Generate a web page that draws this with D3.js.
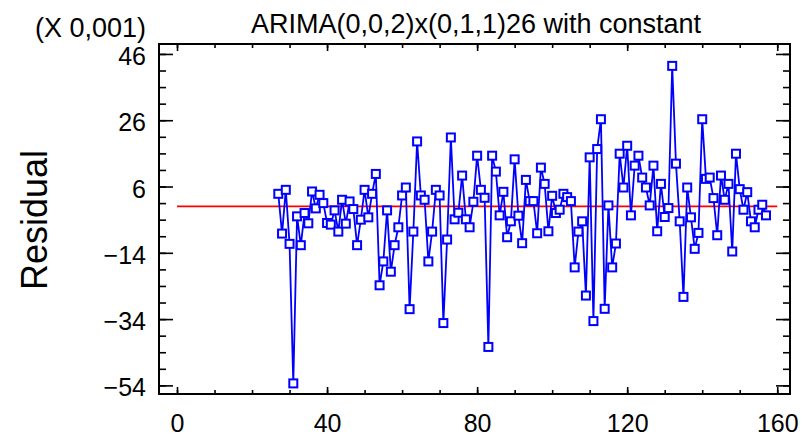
<!DOCTYPE html>
<html>
<head>
<meta charset="utf-8">
<script src="https://cdn.jsdelivr.net/npm/d3@7"></script>
<style>
  html, body { margin: 0; padding: 0; background: #ffffff; }
  svg { display: block; }
  text { font-family: "Liberation Sans", Arial, sans-serif; fill: #000; }
</style>
</head>
<body>
<svg id="chart" width="802" height="437"></svg>
<script>
// Residual series (units of 0.001), one value per time index
const timeIndex = d3.range(27, 158);
const residuals = [
  3.8, -8.2, 5.0, -11.3, -53.4, -3.0, -11.7, -2.0, -5.1, 4.5,
  -0.6, 3.5, 1.0, -5.0, -5.5, -1.2, -7.6, 2.0, -5.2, 1.5,
  -0.8, -11.7, -4.0, 5.0, -3.3, 3.8, 9.8, -23.8, -16.6, -1.2,
  -19.7, -11.7, -6.3, 3.3, 5.7, -31.0, -7.6, 19.6, 3.3, 2.0,
  -16.6, -7.6, 5.0, 3.3, -35.2, -10.0, 20.8, -3.9, -1.9, 9.3,
  -3.9, -6.3, 1.4, 15.3, 5.0, 2.6, -42.4, 15.3, 10.5, -2.7,
  4.4, -9.3, -4.5, 14.2, -2.8, -11.1, 8.0, 1.6, 1.6, -8.1,
  11.7, 6.8, -7.5, 3.2, -2.0, -1.0, 3.8, 2.8, 1.6, -18.4,
  -7.6, -4.5, -26.9, 14.8, -34.6, 17.3, 26.3, -30.9, 0.3, -18.4,
  -11.2, 15.9, 5.7, 18.3, -2.7, 12.3, 15.3, 8.7, 5.7, 0.3,
  12.3, -7.5, 6.8, -3.2, -0.5, 42.4, 12.9, -4.5, -27.3, 5.7,
  -3.3, -12.8, -8.0, 26.3, 8.3, 8.7, 2.5, -8.7, 9.3, 2.0,
  6.8, -13.6, 15.9, 5.2, -1.0, 4.3, -4.5, -6.3, -1.0, 0.5,
  -2.7
];

// Axis ticks
const xMajorTicks = [0, 40, 80, 120, 160];
const xMinorTicks = d3.range(0, 161, 10);
const yMajorTicks = [-54, -34, -14, 6, 26, 46];
const yMinorTicks = d3.range(-54, 47, 5);

// Reference line (zero residual) spans this x range
const zeroLineExtent = [0, 160];

const titleText = "ARIMA(0,0,2)x(0,1,1)26 with constant";
const scaleText = "(X 0,001)";
const yAxisTitle = "Residual";

const points = timeIndex.map((t, i) => ({ t, r: residuals[i] }));

const plot = { left: 159, right: 790, top: 44, bottom: 394 };

const svg = d3.select("#chart");

const x = d3.scaleLinear().domain([-4.8, 163.4]).range([plot.left, plot.right]);
const y = d3.scaleLinear().domain([-56.6, 49]).range([plot.bottom, plot.top]);

const tickFont = 25;

// Bottom axis with labels, ticks pointing into the plot
svg.append("g")
  .attr("transform", `translate(0,${plot.bottom})`)
  .call(d3.axisBottom(x).tickValues(xMajorTicks).tickSize(-7).tickPadding(20).tickFormat(d3.format("d")));
svg.append("g")
  .attr("transform", `translate(0,${plot.bottom})`)
  .call(d3.axisBottom(x).tickValues(xMinorTicks).tickSize(-4).tickFormat(""));

// Top axis (mirror, no labels)
svg.append("g")
  .attr("transform", `translate(0,${plot.top})`)
  .call(d3.axisTop(x).tickValues(xMajorTicks).tickSize(-7).tickFormat(""));
svg.append("g")
  .attr("transform", `translate(0,${plot.top})`)
  .call(d3.axisTop(x).tickValues(xMinorTicks).tickSize(-4).tickFormat(""));

// Left axis with labels
const gLeft = svg.append("g")
  .attr("transform", `translate(${plot.left},0)`)
  .call(d3.axisLeft(y).tickValues(yMajorTicks).tickSize(-14).tickPadding(13).tickFormat(d3.format("d")));
svg.append("g")
  .attr("transform", `translate(${plot.left},0)`)
  .call(d3.axisLeft(y).tickValues(yMinorTicks).tickSize(-7).tickFormat(""));

// Right axis (mirror, no labels)
svg.append("g")
  .attr("transform", `translate(${plot.right},0)`)
  .call(d3.axisRight(y).tickValues(yMajorTicks).tickSize(-14).tickFormat(""));
svg.append("g")
  .attr("transform", `translate(${plot.right},0)`)
  .call(d3.axisRight(y).tickValues(yMinorTicks).tickSize(-7).tickFormat(""));

svg.selectAll(".domain").remove();
svg.selectAll(".tick line").attr("stroke", "#000").attr("stroke-width", 1.6);
svg.selectAll(".tick text")
  .style("font-family", '"Liberation Sans", Arial, sans-serif')
  .style("font-size", tickFont + "px")
  .attr("fill", "#000");
gLeft.selectAll(".tick text").attr("dy", "0.42em");

// Plot frame
svg.append("rect")
  .attr("x", plot.left).attr("y", plot.top)
  .attr("width", plot.right - plot.left).attr("height", plot.bottom - plot.top)
  .attr("fill", "none").attr("stroke", "#000").attr("stroke-width", 2);

// Zero reference line
svg.append("line")
  .attr("x1", x(zeroLineExtent[0])).attr("x2", x(zeroLineExtent[1]))
  .attr("y1", y(0)).attr("y2", y(0))
  .attr("stroke", "#ff0000").attr("stroke-width", 1.8);

// Residual series
const line = d3.line().x(d => x(d.t)).y(d => y(d.r));
svg.append("path")
  .datum(points)
  .attr("d", line)
  .attr("fill", "none")
  .attr("stroke", "#0000ff")
  .attr("stroke-width", 1.8);

const sq = 8;
svg.append("g").selectAll("rect")
  .data(points)
  .join("rect")
  .attr("x", d => x(d.t) - sq / 2)
  .attr("y", d => y(d.r) - sq / 2)
  .attr("width", sq).attr("height", sq)
  .attr("fill", "#ffffff")
  .attr("stroke", "#0000ff")
  .attr("stroke-width", 2);

// Titles
svg.append("text")
  .attr("x", 476).attr("y", 33)
  .attr("text-anchor", "middle")
  .style("font-size", "27px")
  .text(titleText);

svg.append("text")
  .attr("x", 146).attr("y", 37)
  .attr("text-anchor", "end")
  .style("font-size", "27px")
  .text(scaleText);

svg.append("text")
  .attr("transform", "translate(47,220) rotate(-90)")
  .attr("text-anchor", "middle")
  .style("font-size", "36px")
  .text(yAxisTitle);
</script>
</body>
</html>
